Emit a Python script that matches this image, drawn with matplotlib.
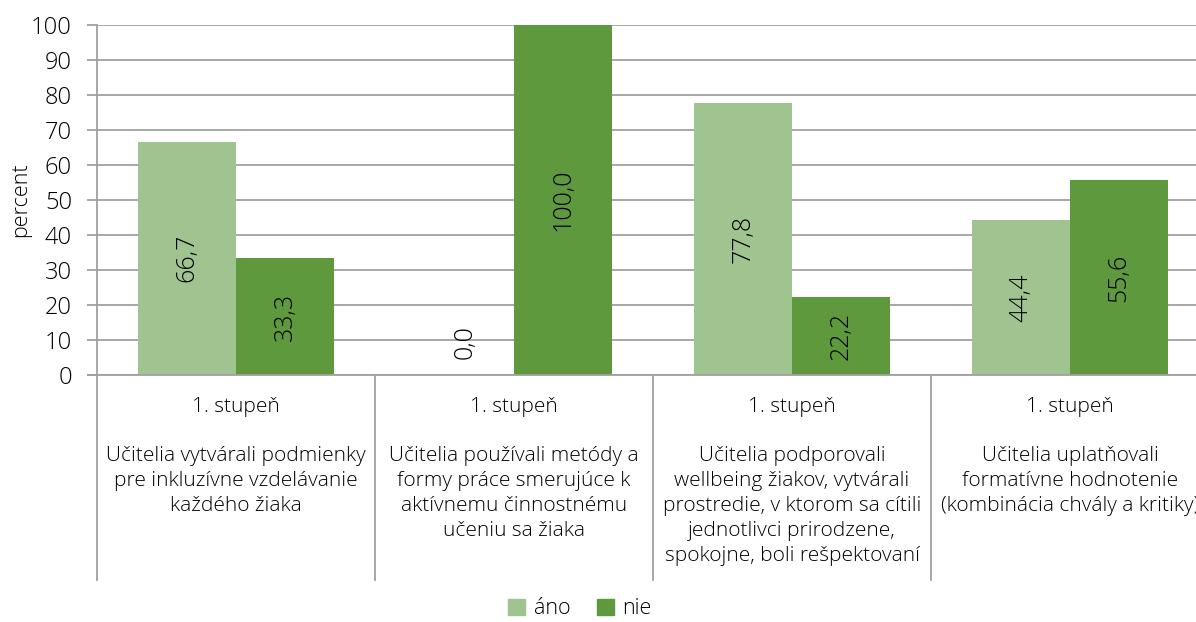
import matplotlib
matplotlib.use("Agg")
import matplotlib.pyplot as plt
import numpy as np
from matplotlib import transforms
from matplotlib.lines import Line2D
from matplotlib.patches import Patch

plt.rcParams["font.family"] = ["Open Sans", "DejaVu Sans"]
plt.rcParams["font.weight"] = "light"
plt.rcParams["axes.labelweight"] = "light"

# data
levels = ["1. stupeň", "1. stupeň", "1. stupeň", "1. stupeň"]
categories = [
    "Učitelia vytvárali podmienky\npre inkluzívne vzdelávanie\nkaždého žiaka",
    "Učitelia používali metódy a\nformy práce smerujúce k\naktívnemu činnostnému\nučeniu sa žiaka",
    "Učitelia podporovali\nwellbeing žiakov, vytvárali\nprostredie, v ktorom sa cítili\njednotlivci prirodzene,\nspokojne, boli rešpektovaní",
    "Učitelia uplatňovali\nformatívne hodnotenie\n(kombinácia chvály a kritiky)",
]
ano = [66.7, 0.0, 77.8, 44.4]
nie = [33.3, 100.0, 22.2, 55.6]
series_names = ["áno", "nie"]
yticks = list(range(0, 101, 10))

C_ANO = "#A0C48F"
C_NIE = "#5F993E"
GRID = "#A0A0A0"

W, H, DPI = 1196, 622, 100
fig = plt.figure(figsize=(W / DPI, H / DPI), dpi=DPI)
ax = fig.add_axes([97 / W, (H - 375) / H, 1112 / W, 350 / H])

x = np.arange(len(categories))
bw = 0.353
b1 = ax.bar(x - bw / 2, ano, bw, color=C_ANO, zorder=2)
b2 = ax.bar(x + bw / 2, nie, bw, color=C_NIE, zorder=2)

ax.set_xlim(-0.5, 3.5)
ax.set_ylim(0, 100)
ax.set_yticks(yticks)
ax.set_yticklabels([str(t) for t in yticks], fontsize=17)
ax.yaxis.grid(True, color=GRID, lw=1.3, zorder=0)
ax.set_axisbelow(True)
ax.tick_params(axis="y", length=7, width=1.3, color=GRID, pad=11)
ax.set_xticks([])
for s in ["top", "right"]:
    ax.spines[s].set_visible(False)
for s in ["left", "bottom"]:
    ax.spines[s].set_color(GRID)
    ax.spines[s].set_linewidth(1.3)
ax.set_ylabel("percent", fontsize=15.5, labelpad=0, fontweight="light")

# value labels inside bars
for bars, vals in [(b1, ano), (b2, nie)]:
    for r, v in zip(bars, vals):
        cx = r.get_x() + r.get_width() / 2
        txt = f"{v:.1f}".replace(".", ",")
        if v > 0:
            ax.text(cx, v / 2, txt, rotation=90, ha="center", va="center",
                    fontsize=18, color="black", zorder=3)
        else:
            ax.annotate(txt, (cx, 0), xytext=(0, 16), textcoords="offset pixels",
                        rotation=90, ha="center", va="bottom",
                        fontsize=18, color="black", zorder=3)

# multi-level category axis
tr = transforms.blended_transform_factory(ax.transData, fig.transFigure)
y_axis = (H - 375) / H
y_end = (H - 580) / H
for xs in np.arange(-0.5, 4, 1.0):
    ax.add_line(Line2D([xs, xs], [y_axis, y_end], transform=tr, color=GRID,
                       lw=1.3, clip_on=False))
ax.add_line(Line2D([-0.5 - 9 / 278, -0.5], [y_axis, y_axis], transform=tr,
                   color=GRID, lw=1.3, clip_on=False))
for xi, lev, cat in zip(x, levels, categories):
    ax.text(xi, (H - 407) / H, lev, transform=tr, ha="center", va="center",
            fontsize=15)
    ax.text(xi, (H - 446) / H, cat, transform=tr, ha="center", va="top",
            fontsize=15, linespacing=1.33)

# legend
handles = [Patch(color=C_ANO), Patch(color=C_NIE)]
fig.legend(handles, series_names, loc="center", bbox_to_anchor=(580 / W, (H - 609) / H),
           ncol=2, frameon=False, fontsize=15.5, handlelength=0.8, handleheight=0.8,
           handletextpad=0.4, columnspacing=1.2)

plt.savefig("out.png", dpi=DPI, facecolor="white")
